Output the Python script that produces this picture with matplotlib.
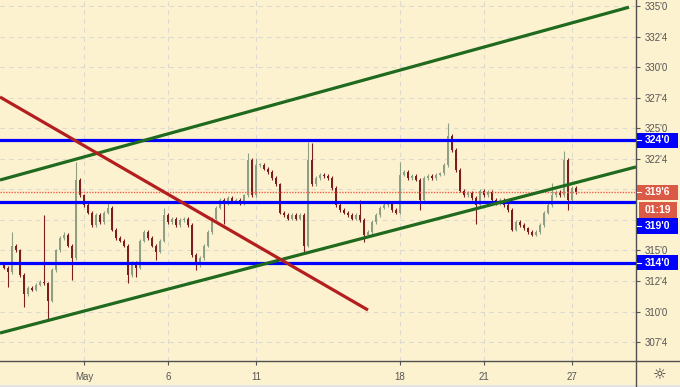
import numpy as np
import matplotlib
matplotlib.use("Agg")
import matplotlib.pyplot as plt
from matplotlib.patches import Rectangle
from matplotlib.lines import Line2D
from matplotlib.transforms import blended_transform_factory

plt.rcParams['font.family'] = ['Liberation Sans', 'DejaVu Sans']

# hourly closes (cents/bu)
close = [
    313.6, 313.2, 315.4, 315.0, 313.0, 311.4, 311.9, 311.8, 312.2, 312.4,
    312.3, 310.9, 313.4, 315.0, 316.0, 316.3, 315.4, 314.4, 320.8, 319.5,
    318.7, 318.1, 317.1, 317.9, 317.3, 318.1, 318.5, 316.7, 316.0, 315.8,
    315.4, 313.0, 314.0, 313.6, 315.8, 316.5, 316.0, 315.4, 314.9, 315.8,
    317.9, 317.3, 317.6, 317.1, 317.5, 317.6, 317.1, 314.6, 313.8, 314.4,
    315.4, 316.5, 317.6, 318.5, 319.1, 318.9, 319.3, 319.0, 319.1, 318.9,
    319.5, 322.4, 319.5, 322.0, 322.0, 321.7, 321.4, 320.9, 320.4, 318.1,
    317.9, 317.6, 317.9, 317.6, 317.9, 315.4, 322.4, 320.4, 320.9, 321.2,
    321.1, 320.9, 320.1, 318.7, 318.3, 318.1, 317.9, 317.6, 317.9, 317.5,
    316.3, 316.5, 317.3, 317.9, 318.5, 318.7, 318.9, 318.3, 318.1, 321.2,
    321.4, 320.9, 321.1, 320.8, 319.1, 320.9, 321.1, 320.9, 321.2, 321.3,
    322.0, 324.4, 323.2, 321.6, 319.9, 319.5, 319.7, 319.3, 318.7, 319.9,
    319.5, 319.8, 319.1, 318.9, 319.1, 318.7, 318.3, 316.7, 317.3, 317.1,
    316.8, 316.5, 316.3, 316.5, 317.1, 318.1, 318.7, 319.5, 319.8, 319.5,
    322.4, 319.1, 320.1, 319.75,
]
first_open = 313.8
# long wicks
spike_high = {2: 316.5, 10: 317.9, 15: 316.5, 18: 322.2, 26: 318.9, 40: 318.5,
              61: 323.0, 63: 322.6, 76: 323.9, 77: 323.8, 89: 319.1, 99: 322.2,
              111: 325.4, 137: 320.5, 140: 323.1}
spike_low = {1: 312.0, 5: 310.4, 11: 309.2, 17: 312.6, 31: 312.3, 33: 312.8,
             38: 314.2, 48: 313.4, 55: 317.2, 75: 314.8, 90: 315.7, 104: 318.3,
             118: 317.2, 141: 318.3}

date_pos = [20, 41, 63, 99, 120, 142]
date_lbl = ["May", "6", "11", "18", "21", "27"]

levels = [324.0, 319.0, 314.0]
last_price = 319.75
countdown = "01:19"

upper_x, upper_y = [-1, 156.25], [320.76, 334.9]
lower_x, lower_y = [-1, 158], [308.24, 321.83]
red_x, red_y = [-1, 91], [327.55, 310.12]

bg = '#fdf2cf'
W, H = 680, 387
fig = plt.figure(figsize=(W / 100, H / 100), dpi=100)
fig.patch.set_facecolor(bg)
ax = fig.add_axes([0, 26 / H, 636 / W, 361 / H])
ax.set_facecolor(bg)

def fmt(p):
    whole = int(np.floor(p + 1e-9))
    return "%d'%d" % (whole, int(round((p - whole) * 8)))

c = np.array(close)
o = np.array([first_open] + close[:-1])
x = np.arange(len(c))
hi = np.maximum(o, c) + 0.15
lo = np.minimum(o, c) - 0.15
for k, v in spike_high.items():
    hi[k] = v
for k, v in spike_low.items():
    lo[k] = v
up = c >= o
cols = np.where(up, '#8f9f86', '#7d1e1e')
ax.vlines(x, lo, hi, colors=cols, lw=0.8, zorder=2)
ax.bar(x, np.maximum(np.abs(c - o), 0.1), bottom=np.minimum(o, c), width=0.55,
       color=cols, zorder=2)

ax.axhline(last_price, color='#e8604c', lw=1, ls=(0, (1, 1)), zorder=3)
for lv in levels:
    ax.axhline(lv, color='#0000ff', lw=2.3, zorder=4)
ax.plot(upper_x, upper_y, color='#1f6a1f', lw=2.3, zorder=5, solid_capstyle='butt')
ax.plot(lower_x, lower_y, color='#1f6a1f', lw=2.3, zorder=5, solid_capstyle='butt')
ax.plot(red_x, red_y, color='#b31f1f', lw=2.3, zorder=5, solid_capstyle='butt')

ax.set_xlim(-1, 158)
ax.set_ylim(305.95, 335.49)
yt = np.arange(307.5, 335.01, 2.5)
ax.set_yticks(yt)
# labels under the price tags are hidden, as on the scale
ax.set_yticklabels(['' if v in (317.5, 320.0) else fmt(v) for v in yt])
ax.yaxis.tick_right()
ax.set_xticks(date_pos)
ax.set_xticklabels(date_lbl)
ax.tick_params(axis='both', direction='out', length=3, width=0.8, colors='#555555',
               labelsize=7)
ax.tick_params(axis='y', pad=3)
ax.tick_params(axis='x', pad=5)
ax.grid(True, color='#dcd9cf', lw=0.8, ls=(0, (4, 4)), zorder=0)
for s in ['top', 'left', 'bottom', 'right']:
    ax.spines[s].set_visible(False)

fig.add_artist(Line2D([0, 1], [26 / H, 26 / H], color='#505050', lw=1))
fig.add_artist(Line2D([636 / W, 636 / W], [0, 1], color='#505050', lw=1))
fig.add_artist(Rectangle((0, 0), 1, 2 / H, color='#e4e4e4', lw=0))

# price labels on the scale
tr = blended_transform_factory(fig.transFigure, ax.transData)
def tag(yc, text, color, x0=636.5, w=41):
    fig.add_artist(Rectangle((x0 / W, yc - 0.64), w / W, 1.28, transform=tr,
                             color=color, lw=0, zorder=5))
    fig.text(645 / W, yc, text, transform=tr, color='white', fontsize=7.5,
             fontweight='bold', va='center', ha='left', zorder=6)

tag_y = [levels[0], levels[1] - 2.0, levels[2]]   # middle one pushed below countdown
for lv, yc in zip(levels, tag_y):
    tag(yc, fmt(lv), '#0000ff')
tag(last_price, fmt(last_price), '#db5a45')
tag(last_price - 1.45, countdown, '#db5a45', x0=638.5, w=38)
for yc in tag_y + [last_price]:
    fig.add_artist(Line2D([637 / W, 641 / W], [yc, yc], transform=tr, color='white',
                          lw=0.8, zorder=7))

fig.text(660 / W, 1 - 375 / H, '\u263c', fontsize=11, color='#333333',
         ha='center', va='center', family='DejaVu Sans')

fig.savefig('out.png', dpi=100, facecolor=bg)
